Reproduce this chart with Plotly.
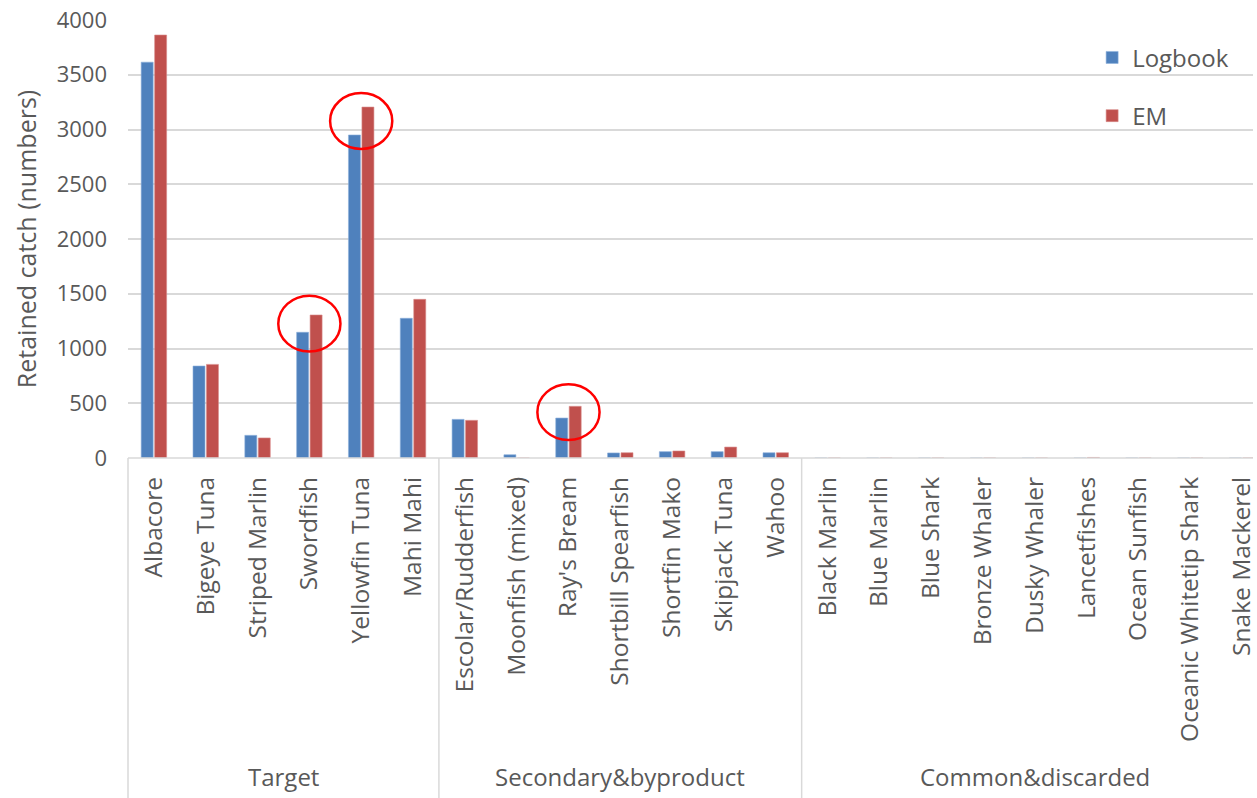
import plotly.graph_objects as go

# Species, grouped by catch category
groups = ["Target", "Secondary&byproduct", "Common&discarded"]
group_species = [
    ["Albacore", "Bigeye Tuna", "Striped Marlin", "Swordfish", "Yellowfin Tuna", "Mahi Mahi"],
    ["Escolar/Rudderfish", "Moonfish (mixed)", "Ray's Bream", "Shortbill Spearfish",
     "Shortfin Mako", "Skipjack Tuna", "Wahoo"],
    ["Black Marlin", "Blue Marlin", "Blue Shark", "Bronze Whaler", "Dusky Whaler",
     "Lancetfishes", "Ocean Sunfish", "Oceanic Whitetip Shark", "Snake Mackerel"],
]
species = [s for g in group_species for s in g]

# Retained catch (numbers)
logbook = [3615, 840, 207, 1148, 2950, 1276,
           353, 30, 365, 46, 58, 58, 48,
           0, 0, 0, 0, 0, 0, 0, 0, 0]
em = [3863, 855, 183, 1306, 3205, 1449,
      344, 0, 472, 48, 64, 100, 48,
      0, 0, 0, 0, 0, 5, 0, 0, 0]

# Species highlighted with a red ring
highlighted = ["Swordfish", "Yellowfin Tuna", "Ray's Bream"]

GRID = "#D9D9D9"
TEXT = "#595959"
FONT = "Open Sans"

W, H = 1257, 798
ML, MT, MB = 128, 20, 340
X_MIN, X_MAX = -0.5, 21.21
Y_MAX = 4000

fig = go.Figure()
fig.add_trace(go.Bar(x=species, y=logbook, name="Logbook", marker_color="#4F81BD",
                     marker_line=dict(color="#8DB0DC", width=0.6), legendgroup="a"))
fig.add_trace(go.Bar(x=species, y=em, name="EM", marker_color="#C0504D",
                     marker_line=dict(color="#D98C8A", width=0.6), legendgroup="b"))

def px(cat_pos):
    return (cat_pos - X_MIN) / (X_MAX - X_MIN)

plot_h = H - MT - MB
bottom_paper = -MB / plot_h

shapes = []
# x axis baseline and the group separators below it
shapes.append(dict(type="line", xref="paper", yref="paper", x0=0, x1=1, y0=0, y1=0,
                   line=dict(color=GRID, width=1.5)))
start = 0
bounds = [-0.5]
for g in group_species:
    start += len(g)
    bounds.append(start - 0.5)
for b in bounds:
    shapes.append(dict(type="line", xref="paper", yref="paper", x0=px(b), x1=px(b),
                       y0=0, y1=bottom_paper, line=dict(color=GRID, width=1.5)))

# Rings around highlighted species
for name in highlighted:
    i = species.index(name)
    yc = (logbook[i] + em[i]) / 2
    shapes.append(dict(type="circle", xref="x", yref="y",
                       x0=i - 0.6, x1=i + 0.6, y0=yc - 255, y1=yc + 255,
                       line=dict(color="#FF0000", width=2.5)))

annotations = []
for gi, g in enumerate(groups):
    mid = (bounds[gi] + bounds[gi + 1]) / 2
    annotations.append(dict(text=g, xref="paper", yref="paper", x=px(mid), y=bottom_paper,
                            xanchor="center", yanchor="bottom", yshift=3, showarrow=False,
                            font=dict(family=FONT, size=24, color=TEXT)))

fig.update_layout(
    width=W, height=H,
    margin=dict(l=ML, r=0, t=MT, b=MB),
    paper_bgcolor="white", plot_bgcolor="white",
    barmode="group", bargap=0.48, bargroupgap=0.11,
    font=dict(family=FONT, color=TEXT),
    shapes=shapes, annotations=annotations,
    legend=dict(x=0.857, y=0.965, xanchor="left", yanchor="top",
                bgcolor="rgba(0,0,0,0)", font=dict(family=FONT, size=24, color=TEXT),
                traceorder="grouped", tracegroupgap=24, itemwidth=30),
    xaxis=dict(type="category", categoryorder="array", categoryarray=species,
               range=[X_MIN, X_MAX], tickangle=-90, showgrid=False, showline=False,
               zeroline=False, ticks="", ticklabelstandoff=13,
               tickfont=dict(family=FONT, size=24.5, color=TEXT)),
    yaxis=dict(range=[0, Y_MAX], dtick=500, showgrid=True, gridcolor=GRID, gridwidth=1.5,
               zeroline=False, showline=False, ticks="", ticklabelstandoff=20,
               tickfont=dict(family=FONT, size=22, color=TEXT),
               title=dict(text="Retained catch (numbers)", standoff=12,
                          font=dict(family=FONT, size=25, color=TEXT))),
)

fig.write_html("out.html")
